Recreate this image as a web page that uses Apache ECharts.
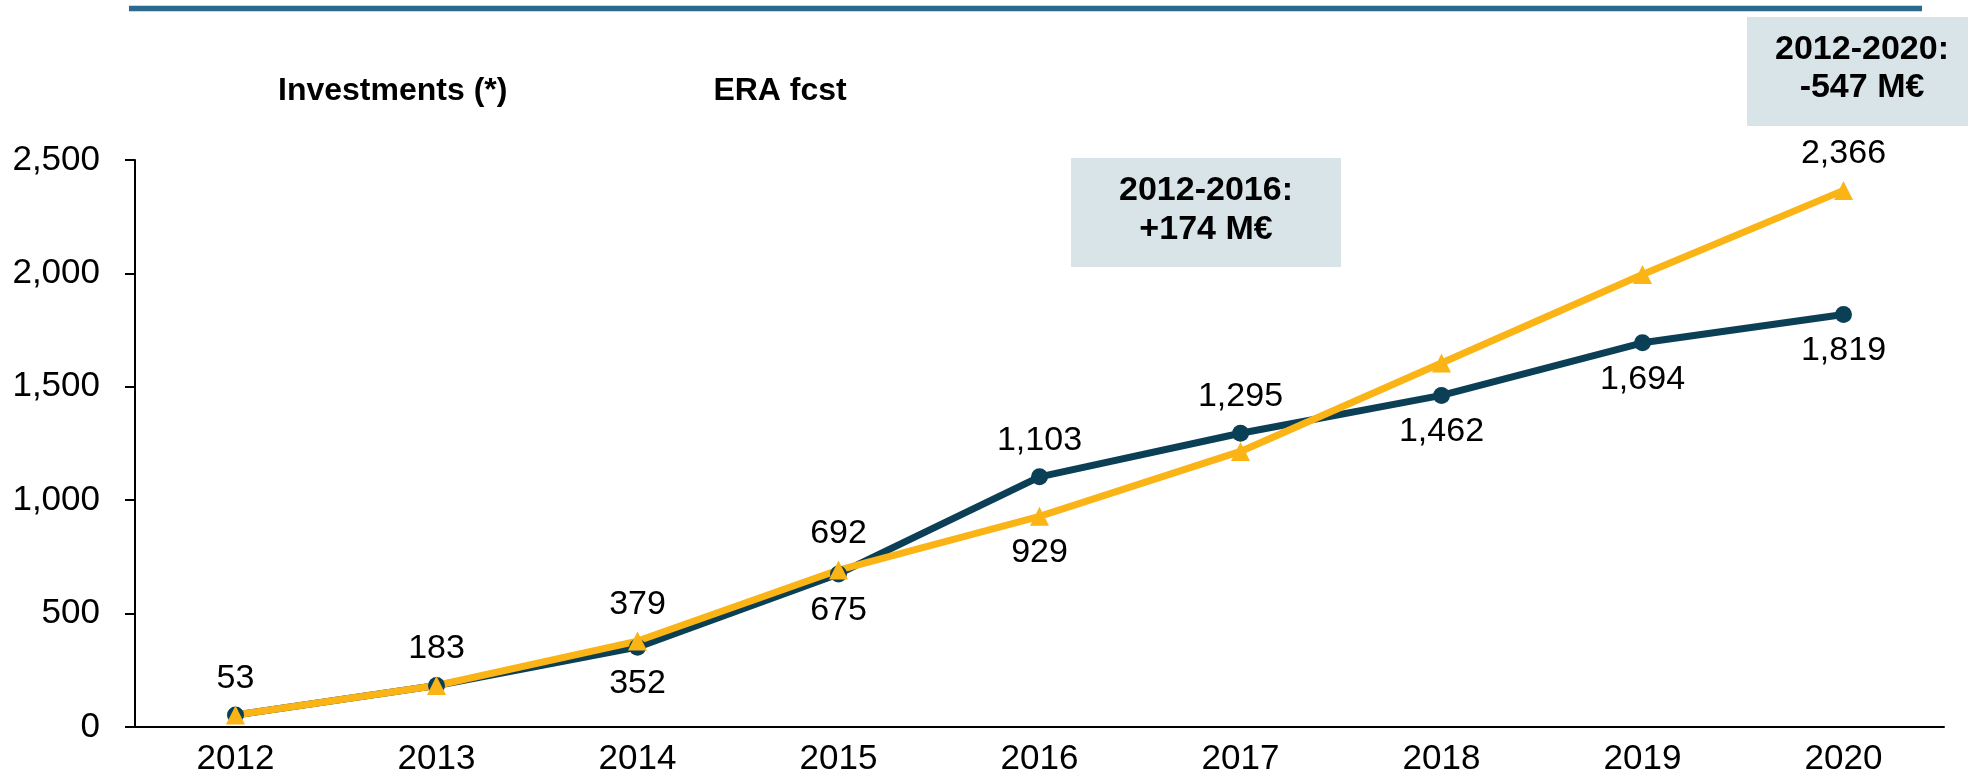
<!DOCTYPE html>
<html>
<head>
<meta charset="utf-8">
<script src="https://cdn.jsdelivr.net/npm/echarts@6/dist/echarts.min.js"></script>
<style>
  html, body { margin: 0; padding: 0; background: #fff; }
  #chart { width: 1968px; height: 778px; }
</style>
</head>
<body>
<div id="chart"></div>
<script>
  // data
  var years = ['2012', '2013', '2014', '2015', '2016', '2017', '2018', '2019', '2020'];
  var investments = [53, 183, 352, 675, 1103, 1295, 1462, 1694, 1819];
  var eraFcst = [53, 183, 379, 692, 929, 1215, 1605, 1995, 2366];
  // only these ERA points carry a value label in the original
  var eraLabelled = ['2014', '2015', '2016', '2020'];
  var yTicks = { min: 0, max: 2500, interval: 500 };
  var notes = ['2012-2016:\n+174 M€', '2012-2020:\n-547 M€'];

  var font = 'Liberation Sans, Arial, sans-serif';
  var fmt = function (v) { return Number(v).toLocaleString('en-US'); };

  // label goes above the point when the line is the upper one
  var darkData = investments.map(function (v, i) {
    return { value: v, label: { position: v >= eraFcst[i] ? 'top' : 'bottom' } };
  });
  var eraData = eraFcst.map(function (v, i) {
    return {
      value: v,
      label: { show: eraLabelled.indexOf(years[i]) > -1, position: v >= investments[i] ? 'top' : 'bottom' }
    };
  });

  var chart = echarts.init(document.getElementById('chart'));
  chart.setOption({
    animation: false,
    textStyle: { fontFamily: font },
    legend: {
      data: ['Investments (*)', 'ERA fcst'],
      left: 272,
      top: 75,
      padding: 0,
      itemWidth: 0,
      itemHeight: 0,
      itemGap: 200,
      itemStyle: { opacity: 0 },
      lineStyle: { opacity: 0 },
      textStyle: { fontSize: 32, fontWeight: 'bold', color: '#000', fontFamily: font }
    },
    grid: { left: 135, right: 24, top: 160, bottom: 51, outerBoundsMode: 'none' },
    xAxis: {
      type: 'category',
      data: years,
      axisLine: { lineStyle: { color: '#000', width: 2 } },
      axisTick: { show: false },
      axisLabel: { fontSize: 35, color: '#000', margin: 15, fontFamily: font }
    },
    yAxis: {
      type: 'value',
      min: yTicks.min,
      max: yTicks.max,
      interval: yTicks.interval,
      splitLine: { show: false },
      axisLine: { show: true, lineStyle: { color: '#000', width: 2 } },
      axisTick: { show: true, length: 10, lineStyle: { color: '#000', width: 2 } },
      axisLabel: { fontSize: 35, color: '#000', margin: 35, fontFamily: font }
    },
    series: [{
      name: 'Investments (*)',
      type: 'line',
      data: darkData,
      symbol: 'circle',
      symbolSize: 17,
      color: '#0B3F56',
      lineStyle: { width: 7, color: '#0B3F56' },
      label: { show: true, fontSize: 34, color: '#000', distance: 11, formatter: function (p) { return fmt(p.value); } }
    }, {
      name: 'ERA fcst',
      type: 'line',
      data: eraData,
      symbol: 'triangle',
      symbolSize: 19,
      color: '#FBB416',
      lineStyle: { width: 7, color: '#FBB416' },
      label: { fontSize: 34, color: '#000', distance: 10, formatter: function (p) { return fmt(p.value); } }
    }],
    graphic: [
      // rule across the top
      { type: 'line', shape: { x1: 129, y1: 8.5, x2: 1922, y2: 8.5 }, style: { stroke: '#2B6A8C', lineWidth: 5.5 } },
      { type: 'rect', shape: { x: 1071, y: 158, width: 270, height: 109 }, style: { fill: '#D9E4E8' } },
      {
        type: 'text', x: 1206, y: 210,
        style: { text: notes[0], font: 'bold 34px ' + font, fill: '#000', align: 'center', verticalAlign: 'middle', lineHeight: 39 }
      },
      { type: 'rect', shape: { x: 1747, y: 17, width: 221, height: 109 }, style: { fill: '#D9E4E8' } },
      {
        type: 'text', x: 1862, y: 69,
        style: { text: notes[1], font: 'bold 34px ' + font, fill: '#000', align: 'center', verticalAlign: 'middle', lineHeight: 38 }
      }
    ]
  });
</script>
</body>
</html>
